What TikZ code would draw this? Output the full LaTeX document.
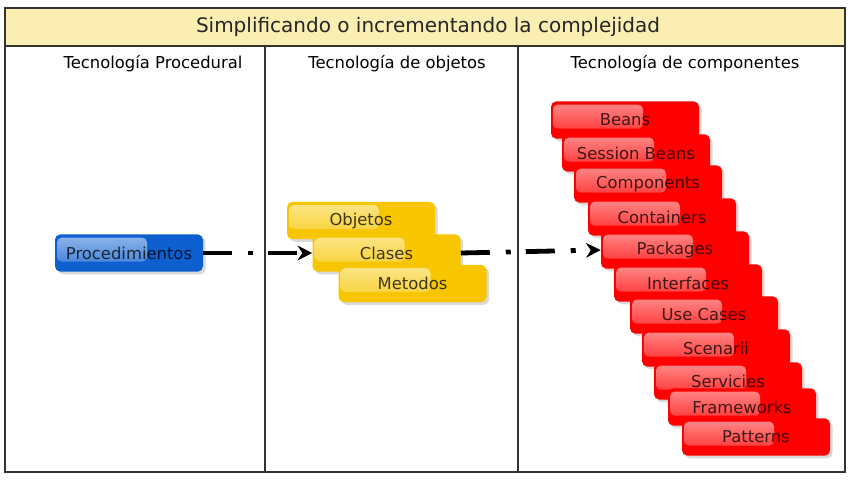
\documentclass[tikz,border=0pt]{standalone}
\usepackage{fontspec}
\setmainfont{DejaVu Sans}
\usetikzlibrary{arrows.meta,shadows,positioning}
\definecolor{titleYellow}{HTML}{FAEEB2}
\definecolor{procBlue}{HTML}{0D5FD0}
\definecolor{objGold}{HTML}{F7C600}
\definecolor{compRed}{HTML}{FF0000}
\definecolor{frameGray}{HTML}{333333}

\begin{document}
\begin{tikzpicture}[
    x=0.75pt, y=-0.75pt,
    every node/.style={font=\fontsize{12.3}{14}\selectfont},
    tech/.style={fill=#1, rounded corners=4pt, minimum width=111pt,
                 minimum height=28pt, inner sep=0pt, text=black, text opacity=0.75,
                 drop shadow={shadow xshift=2pt, shadow yshift=-2pt, opacity=0.3},
                 path picture={\shade[top color=#1!45!white, bottom color=#1!85!white,
                   rounded corners=3.5pt]
                   ([shift={(1.5pt,-2.5pt)}]path picture bounding box.north west)
                   rectangle ([shift={(69pt,-20.5pt)}]path picture bounding box.north west);}},
    header/.style={text=black},
    arr/.style={-{Stealth[length=11pt, width=11pt]}, line width=3.6pt,
                dash pattern=on 21.75pt off 12pt on 3.75pt off 11.25pt},
  ]
  \useasboundingbox (0,0) rectangle (853,481);

  % Frame and columns
  \fill[titleYellow] (5,8) rectangle (845,46);
  \draw[frameGray, line width=0.8pt] (5,8) rectangle (845,472);
  \draw[frameGray, line width=0.8pt] (5,46) -- (845,46);
  \draw[frameGray, line width=0.8pt] (265,46) -- (265,472);
  \draw[frameGray, line width=0.8pt] (518,46) -- (518,472);

  \node[font=\fontsize{15}{18}\selectfont, text=black!85] (title) at (428,27)
    {Simplificando o incrementando la complejidad};
  \node[header] (hproc) at (153,64) {Tecnología Procedural};
  \node[header] (hobj)  at (397,64) {Tecnología de objetos};
  \node[header] (hcomp) at (685,64) {Tecnología de componentes};

  % Procedural
  \node[tech=procBlue] (proc) at (129,253) {Procedimientos};

  % Objects
  \node[tech=objGold] (obj) at (361,220.5) {Objetos};
  \node[tech=objGold] (cls) at (386.5,253) {Clases};
  \node[tech=objGold] (met) at (412.5,283.5) {Metodos};

  % Components
  \node[tech=compRed] (beans) at (625,120) {Beans};
  \node[tech=compRed] (sbeans) at (636,153) {Session Beans};
  \node[tech=compRed] (comps) at (648,184) {Components};
  \node[tech=compRed] (conts) at (662,217) {Containers};
  \node[tech=compRed] (pkgs) at (675,250) {Packages};
  \node[tech=compRed] (ifaces) at (688,283) {Interfaces};
  \node[tech=compRed] (ucases) at (704,315) {Use Cases};
  \node[tech=compRed] (scen) at (716,348) {Scenarii};
  \node[tech=compRed] (serv) at (728,381) {Servicies};
  \node[tech=compRed] (fwks) at (742,407) {Frameworks};
  \node[tech=compRed] (patt) at (756,437) {Patterns};

  % Arrows
  \draw[arr] (proc.east) -- (cls.west);
  \draw[arr] (cls.east) -- (pkgs.west);
\end{tikzpicture}
\end{document}
